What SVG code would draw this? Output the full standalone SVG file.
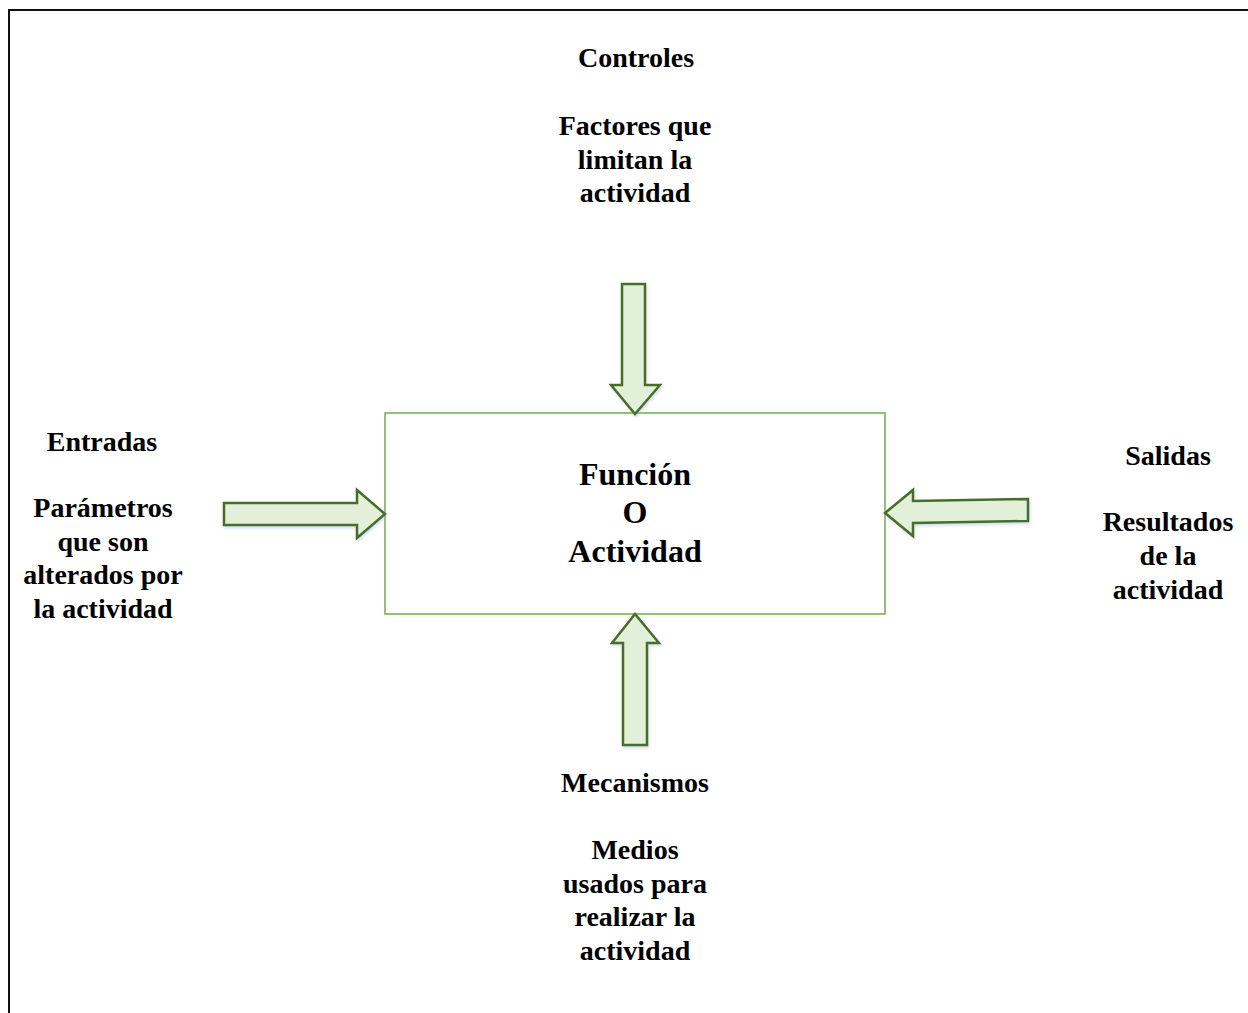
<svg xmlns="http://www.w3.org/2000/svg" width="1248" height="1013" viewBox="0 0 1248 1013">
<defs>
<style>
.t{font-family:"Liberation Serif","Times New Roman",serif;font-weight:bold;font-size:28px;fill:#000;text-anchor:middle}
.big{font-size:32px}
.arrow{fill:#e2efd9;stroke:#466d25;stroke-width:2.5;stroke-linejoin:miter;filter:url(#sh)}
.box{fill:#fff;stroke:#70ad47;stroke-width:1.5}
</style>
<filter id="sh" x="-20%" y="-20%" width="140%" height="140%">
<feDropShadow dx="1" dy="2" stdDeviation="1.5" flood-color="#9fb3d9" flood-opacity="0.45"/>
</filter>
</defs>
<rect width="1248" height="1013" fill="#fff"/>
<path d="M9,1013 V10 H1248" fill="none" stroke="#111" stroke-width="2"/>

<g id="funcion">
<rect class="box" x="385" y="413" width="500" height="201"/>
<text class="t big" x="635" y="485">Función</text>
<text class="t big" x="635" y="523">O</text>
<text class="t big" x="635" y="562">Actividad</text>
</g>

<g id="controles">
<text class="t" x="636" y="67">Controles</text>
<text class="t" x="635" y="135">Factores que</text>
<text class="t" x="635" y="168.5">limitan la</text>
<text class="t" x="635" y="202">actividad</text>
</g>

<g id="entradas">
<text class="t" x="102" y="451">Entradas</text>
<text class="t" x="103" y="517">Parámetros</text>
<text class="t" x="103" y="550.5">que son</text>
<text class="t" x="103" y="584">alterados por</text>
<text class="t" x="103" y="618">la actividad</text>
</g>

<g id="salidas">
<text class="t" x="1168" y="465">Salidas</text>
<text class="t" x="1168" y="531">Resultados</text>
<text class="t" x="1168" y="565">de la</text>
<text class="t" x="1168" y="598.5">actividad</text>
</g>

<g id="mecanismos">
<text class="t" x="635" y="792">Mecanismos</text>
<text class="t" x="635" y="859">Medios</text>
<text class="t" x="635" y="892.5">usados para</text>
<text class="t" x="635" y="926">realizar la</text>
<text class="t" x="635" y="960">actividad</text>
</g>

<g id="connectors">
<polygon class="arrow" points="622,284 645,284 645,385 660,385 635,414 611,385 622,385"/>
<polygon class="arrow" points="224,503 357,503 357,490 385,514 357,538 357,525 224,525"/>
<polygon class="arrow" points="1028,499 913,501 913,490 885,513 913,536 913,523 1028,521"/>
<polygon class="arrow" points="623,745 647,745 647,643 659,643 635,614 612,643 623,643"/>
</g>
</svg>
